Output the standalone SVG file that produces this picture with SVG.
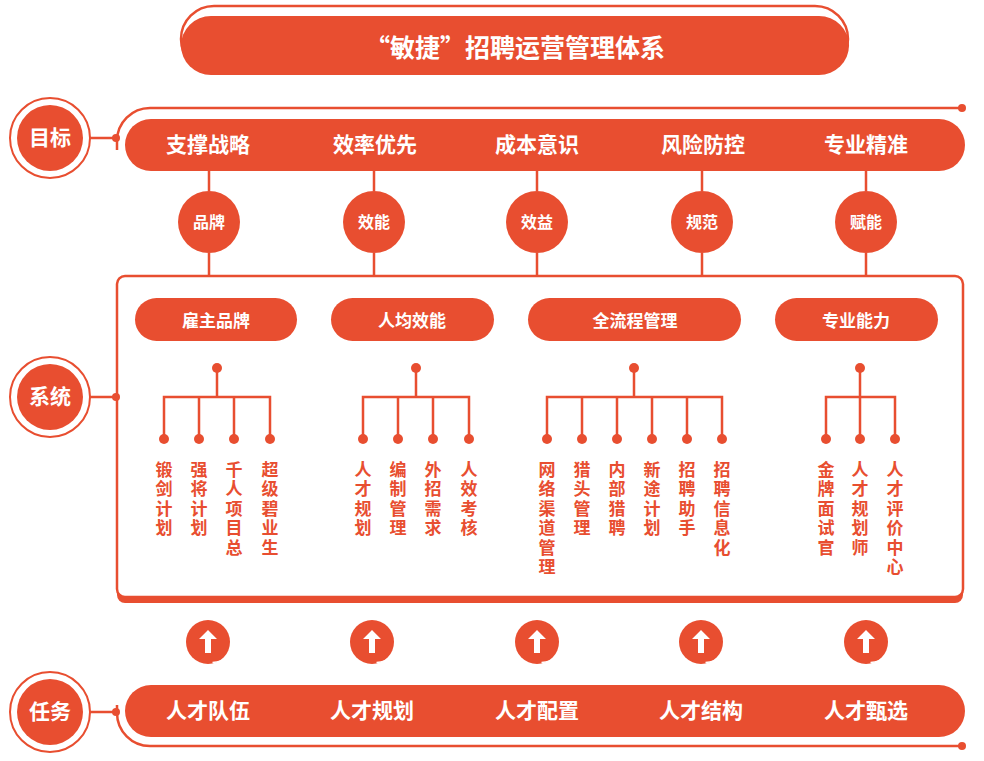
<svg xmlns="http://www.w3.org/2000/svg" width="984" height="761" viewBox="0 0 984 761">
<style>
text{font-family:"Noto Sans CJK SC",sans-serif;font-weight:bold;text-anchor:middle;dominant-baseline:central}
.f{fill:#E84E30}
.s{fill:none;stroke:#E84E30;stroke-width:2.5}
.t{fill:#fff;font-size:21px}
.leaf{fill:#E84E30;font-size:17px;writing-mode:vertical-rl;text-anchor:start;letter-spacing:2.5px;dominant-baseline:auto}
</style>
<defs>
<g id="arr"><circle r="22" class="f"/><path d="M3 -22 A22 22 0 0 1 3 22" fill="none" stroke="#fff" stroke-width="1.5" transform="translate(1.5,-1.5)"/><path d="M0 -12 L-9 -3 L-3 -3 L-3 11 L3 11 L3 -3 L9 -3 Z" fill="#fff"/></g>
</defs>
<g id="title">
<rect x="181" y="6" width="667" height="66" rx="33" class="s" stroke-width="2"/>
<rect x="181" y="16" width="668" height="59" rx="30" class="f"/>
<text x="515" y="46" fill="#fff" font-size="25">“敏捷”招聘运营管理体系</text>
</g>
<g id="side-labels">
<g><circle cx="50" cy="138" r="40" fill="#fff" stroke="#E84E30" stroke-width="2"/><circle cx="50" cy="138" r="33" class="f"/><text x="50" y="136" class="t">目标</text></g>
<g><circle cx="50" cy="397" r="40" fill="#fff" stroke="#E84E30" stroke-width="2"/><circle cx="50" cy="397" r="33" class="f"/><text x="50" y="395" class="t">系统</text></g>
<g><circle cx="50" cy="712" r="40" fill="#fff" stroke="#E84E30" stroke-width="2"/><circle cx="50" cy="712" r="33" class="f"/><text x="50" y="710" class="t">任务</text></g>
</g>
<g id="goals">
<rect x="125" y="119" width="840" height="52" rx="26" class="f"/>
<text x="208" y="143" class="t">支撑战略</text><text x="375" y="143" class="t">效率优先</text><text x="537" y="143" class="t">成本意识</text><text x="703" y="143" class="t">风险防控</text><text x="866" y="143" class="t">专业精准</text>
</g>
<g id="values">
<circle cx="209" cy="222" r="31" class="f"/><text x="209" y="221" fill="#fff" font-size="16">品牌</text>
<circle cx="374" cy="222" r="31" class="f"/><text x="374" y="221" fill="#fff" font-size="16">效能</text>
<circle cx="537" cy="222" r="31" class="f"/><text x="537" y="221" fill="#fff" font-size="16">效益</text>
<circle cx="702" cy="222" r="31" class="f"/><text x="702" y="221" fill="#fff" font-size="16">规范</text>
<circle cx="866" cy="222" r="31" class="f"/><text x="866" y="221" fill="#fff" font-size="16">赋能</text>
</g>
<g id="system">
<rect x="117" y="282" width="846" height="321" rx="8" class="f"/>
<rect x="117" y="276" width="846" height="321" rx="8" fill="#fff" stroke="#E84E30" stroke-width="2.5"/>
<rect x="135" y="298" width="162" height="43" rx="21.5" class="f"/><text x="216" y="319" fill="#fff" font-size="17">雇主品牌</text>
<rect x="331" y="298" width="163" height="43" rx="21.5" class="f"/><text x="412" y="319" fill="#fff" font-size="17">人均效能</text>
<rect x="528" y="298" width="213" height="43" rx="21.5" class="f"/><text x="635" y="319" fill="#fff" font-size="17">全流程管理</text>
<rect x="775" y="298" width="163" height="43" rx="21.5" class="f"/><text x="856" y="319" fill="#fff" font-size="17">专业能力</text>
</g>
<g id="connectors">
<path class="s" d="M962 108 H150 A33 33 0 0 0 117 141 V150"/>
<path class="s" d="M962 746 H150 A33 33 0 0 1 117 713 V705"/>
<circle cx="962" cy="108" r="4" class="f"/><circle cx="962" cy="746" r="4" class="f"/>
<path class="s" d="M90 138H117M90 397H117M90 712H117"/>
<circle cx="116" cy="138" r="4" class="f"/><circle cx="116" cy="397" r="4" class="f"/><circle cx="116" cy="712" r="4" class="f"/>
<path class="s" d="M209 171V191M209 253V276M374 171V191M374 253V276M537 171V191M537 253V276M702 171V191M702 253V276M866 171V191M866 253V276"/>
<g class="s">
<path d="M217 368V397M164 439V397H270V439M199 397V439M234 397V439"/>
<path d="M416 368V397M363 439V397H469V439M398 397V439M433 397V439"/>
<path d="M634 368V397M547 439V397H722V439M582 397V439M617 397V439M652 397V439M687 397V439"/>
<path d="M860 368V397M826 439V397H895V439M860 397V439"/>
</g>
<g class="f">
<circle cx="217" cy="368" r="5"/><circle cx="164" cy="439" r="5"/><circle cx="199" cy="439" r="5"/><circle cx="234" cy="439" r="5"/><circle cx="270" cy="439" r="5"/>
<circle cx="416" cy="368" r="5"/><circle cx="363" cy="439" r="5"/><circle cx="398" cy="439" r="5"/><circle cx="433" cy="439" r="5"/><circle cx="469" cy="439" r="5"/>
<circle cx="634" cy="368" r="5"/><circle cx="547" cy="439" r="5"/><circle cx="582" cy="439" r="5"/><circle cx="617" cy="439" r="5"/><circle cx="652" cy="439" r="5"/><circle cx="687" cy="439" r="5"/><circle cx="722" cy="439" r="5"/>
<circle cx="860" cy="368" r="5"/><circle cx="826" cy="439" r="5"/><circle cx="860" cy="439" r="5"/><circle cx="895" cy="439" r="5"/>
</g>
</g>
<g id="leaves">
<text class="leaf" x="164" y="461">锻剑计划</text>
<text class="leaf" x="199" y="461">强将计划</text>
<text class="leaf" x="234" y="461">千人项目总</text>
<text class="leaf" x="270" y="461">超级碧业生</text>
<text class="leaf" x="363" y="461">人才规划</text>
<text class="leaf" x="398" y="461">编制管理</text>
<text class="leaf" x="433" y="461">外招需求</text>
<text class="leaf" x="469" y="461">人效考核</text>
<text class="leaf" x="547" y="461">网络渠道管理</text>
<text class="leaf" x="582" y="461">猎头管理</text>
<text class="leaf" x="617" y="461">内部猎聘</text>
<text class="leaf" x="652" y="461">新途计划</text>
<text class="leaf" x="687" y="461">招聘助手</text>
<text class="leaf" x="722" y="461">招聘信息化</text>
<text class="leaf" x="826" y="461">金牌面试官</text>
<text class="leaf" x="860" y="461">人才规划师</text>
<text class="leaf" x="895" y="461">人才评价中心</text>
</g>
<g id="arrows">
<use href="#arr" x="208" y="642"/><use href="#arr" x="372" y="642"/><use href="#arr" x="537" y="642"/><use href="#arr" x="701" y="642"/><use href="#arr" x="866" y="642"/>
</g>
<g id="tasks">
<rect x="125" y="685" width="840" height="52" rx="26" class="f"/>
<text x="208" y="709" class="t">人才队伍</text><text x="372" y="709" class="t">人才规划</text><text x="537" y="709" class="t">人才配置</text><text x="701" y="709" class="t">人才结构</text><text x="866" y="709" class="t">人才甄选</text>
</g>
</svg>
